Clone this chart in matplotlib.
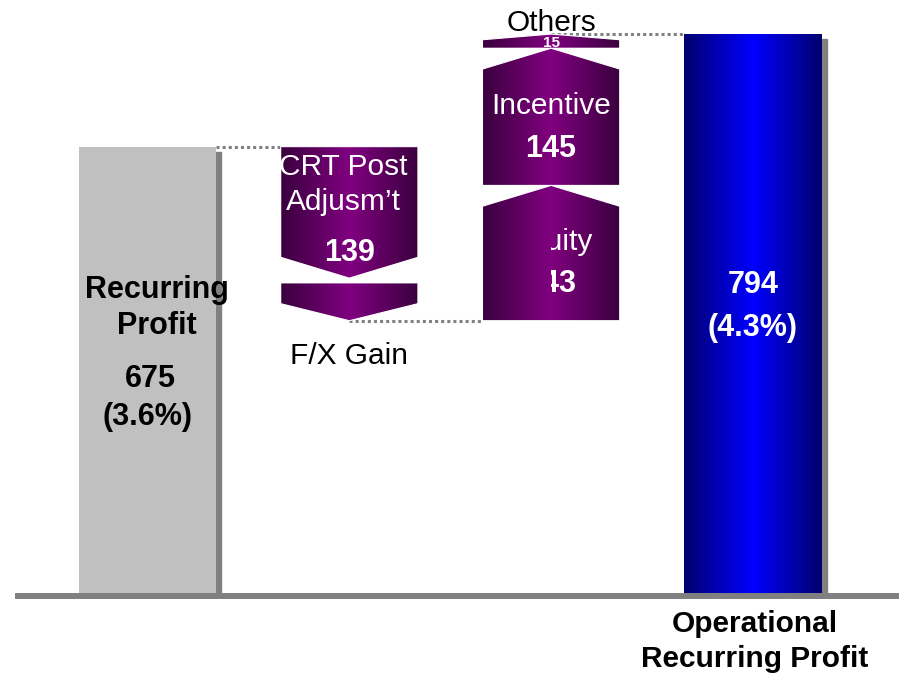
import matplotlib.pyplot as plt
import numpy as np
from matplotlib.patches import Polygon, Rectangle
from matplotlib.colors import LinearSegmentedColormap
from matplotlib.transforms import offset_copy

plt.rcParams['font.family'] = ['Liberation Sans', 'DejaVu Sans']

# bookend bars
start_name = ['Recurring', 'Profit']
start_value = 675
start_pct = '(3.6%)'
end_name = ['Operational', 'Recurring Profit']
end_value = 794
end_pct = '(4.3%)'

# bridge steps between them
step_names = ['CRT Post\nAdjusm\u2019t', 'F/X Gain', 'Equity', 'Incentive', 'Others']
step_values = [-139, -45, 143, 145, 15]
step_columns = [1, 1, 2, 2, 2]
step_label_at = ['inside', 'below', 'inside', 'inside', 'above']
step_half_hidden = [False, False, True, False, False]

W = 0.68      # column width
HEAD = 22     # arrow head height (value units)
GAP = 5
purple = LinearSegmentedColormap.from_list('purple', ['#3a003e', '#800080', '#3a003e'])
blue = LinearSegmentedColormap.from_list('blue', ['#00006e', '#0000ff', '#00006e'])
grad = np.linspace(0, 1, 256).reshape(1, -1)

fig = plt.figure(figsize=(8.99, 6.76), dpi=100)
ax = fig.add_axes([0, 80 / 676, 1, 596 / 676])
shadow = offset_copy(ax.transData, fig=fig, x=5, y=-5, units='dots')


def gradient_patch(verts, cmap, edge='none'):
    patch = Polygon(verts, closed=True, facecolor='none', edgecolor=edge, lw=0.8, zorder=3)
    ax.add_patch(patch)
    xs = [p[0] for p in verts]
    ys = [p[1] for p in verts]
    im = ax.imshow(grad, cmap=cmap, extent=(min(xs), max(xs), min(ys), max(ys)),
                   aspect='auto', interpolation='bilinear', zorder=2)
    im.set_clip_path(patch)
    return patch


def arrow_verts(x, y0, y1, head):
    # flat end at y0, point at y1
    ys = y1 - np.sign(y1 - y0) * head
    return [(x - W / 2, y0), (x + W / 2, y0), (x + W / 2, ys), (x, y1), (x - W / 2, ys)]


def connector(x0, x1, y):
    ax.plot([x0, x1], [y, y], color='#808080', lw=2.2, ls=(0, (1, 1)),
            dash_capstyle='butt', zorder=1)


def label(x, y, s, size=None, color='black', weight='normal', clip=None):
    # y is the visual centre of the capitals
    if size is None:
        size = 22 if weight == 'bold' else 21.5
    t = ax.annotate(s, (x, y), xytext=(0, -0.358 * size), textcoords='offset points',
                    ha='center', va='baseline', fontsize=size, color=color,
                    fontweight=weight, zorder=6, annotation_clip=False)
    if clip is not None:
        t.set_clip_path(clip)
    return t


# starting bar
ax.add_patch(Rectangle((-W / 2, 0), W, start_value, transform=shadow, color='#808080', zorder=1))
ax.bar(0, start_value, W, color='#c0c0c0', zorder=2)
label(0.045, 526.6, start_name[0], weight='bold')
label(0.045, 488.6, start_name[1], weight='bold')
label(0.015, 432.5, str(start_value), weight='bold')
label(0, 392.4, start_pct, weight='bold')

# bridge arrows
level = start_value
prev_col, prev_x = 0, W / 2
for name, v, col, where, half in zip(step_names, step_values, step_columns,
                                     step_label_at, step_half_hidden):
    y0, y1 = level, level + v
    if col != prev_col:
        connector(prev_x, col - W / 2, y0)
    elif v < 0:
        y0 -= GAP
    head = min(HEAD, 0.4 * abs(v))
    patch = gradient_patch(arrow_verts(col, y0, y1, head), purple, 'white')
    lines = name.split('\n')
    if where == 'inside':
        clip = patch
        if half:
            clip = Rectangle((col, min(y0, y1)), W / 2, abs(v), transform=ax.transData)
        if v < 0:
            for i, ln in enumerate(lines):
                label(col - 0.03, y0 - 19 - 37 * i, ln, color='white', clip=clip)
            label(col, y1 + 30, str(abs(v)), color='white', weight='bold', clip=clip)
        else:
            label(col, y0 + 0.6 * v, name, color='white', clip=clip)
            label(col, y0 + 0.29 * v, str(abs(v)), color='white', weight='bold', clip=clip)
    elif where == 'below':
        label(col, y1 - 34, name)
    else:
        label(col, y1 + 15, name)
        label(col, (y0 + y1) / 2, str(abs(v)), size=11, color='white', weight='bold')
    level = y1
    prev_col, prev_x = col, col

# ending bar
connector(prev_x, 3 - W / 2, level)
ax.add_patch(Rectangle((3 - W / 2, 0), W, end_value, transform=shadow, color='#808080', zorder=1))
gradient_patch([(3 - W / 2, 0), (3 + W / 2, 0), (3 + W / 2, end_value), (3 - W / 2, end_value)], blue)
label(3, 531.9, str(end_value), color='white', weight='bold')
label(3, 486.4, end_pct, color='white', weight='bold')
label(3.01, 173.5, end_name[0], size=21.5, weight='bold')
label(3.01, 136.0, end_name[1], size=21.5, weight='bold')

ax.axhline(200, xmin=18 / 899, xmax=1, color='#808080', lw=4.3, zorder=5, clip_on=False)

ax.set_xlim(-0.731, 3.724)
ax.set_ylim(200, 830)
ax.axis('off')

fig.savefig('out.png', dpi=100)
